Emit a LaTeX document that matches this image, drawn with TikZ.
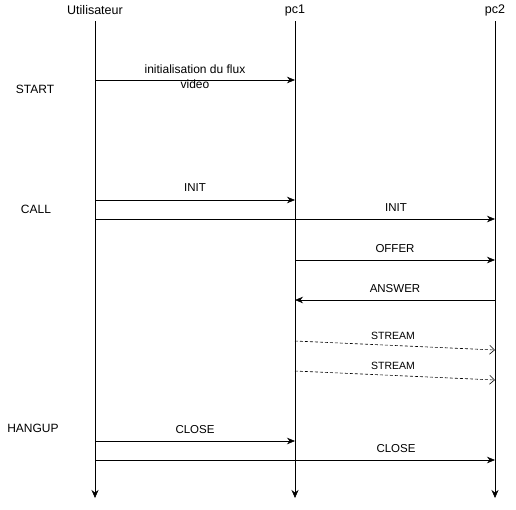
\documentclass[tikz,border=0pt]{standalone}
\usepackage{fontspec}
\setmainfont{Liberation Sans}
\usetikzlibrary{positioning, arrows.meta}

\begin{document}
\begin{tikzpicture}[x=1pt, y=-1pt,
  actor/.style={font=\fontsize{12.5}{14}\selectfont, inner sep=0pt},
  phase/.style={font=\fontsize{12}{13}\selectfont, inner sep=0pt},
  life/.style={-{Stealth[length=8pt,width=7pt]}, semithick},
  msg/.style={-{Stealth[length=8pt,width=6.5pt]}, semithick},
  stream/.style={dash pattern=on 3pt off 2pt, -{Straight Barb[length=5pt,width=9pt]}, semithick},
  lbl/.style={midway, yshift=11.5pt, inner sep=0pt, font=\fontsize{11.5}{13}\selectfont},
  slbl/.style={midway, yshift=10pt, inner sep=0pt, font=\fontsize{10.5}{12}\selectfont}
]
  \useasboundingbox (0,0) rectangle (516,509);

  % actors and their lifelines
  \node[actor] (user) at (95,10) {Utilisateur};
  \node[actor] (pc1)  at (295,10) {pc1};
  \node[actor] (pc2)  at (495,10) {pc2};
  \coordinate (bottom) at (0,498);
  \draw[life] (user |- 0,21) -- (user |- bottom);
  \draw[life] (pc1 |- 0,21) -- (pc1 |- bottom);
  \draw[life] (pc2 |- 0,21) -- (pc2 |- bottom);

  % phases
  \node[phase] (start)  at (35,89)  {START};
  \node[phase] (call)   at (36,209) {CALL};
  \node[phase] (hangup) at (33,428) {HANGUP};

  % START
  \draw[msg] (user |- 0,80) -- node[midway, yshift=3.5pt, align=center, inner sep=0pt,
    font=\fontsize{12}{14.5}\selectfont]{initialisation du flux\\video} (pc1 |- 0,80);

  % CALL
  \draw[msg] (user |- 0,200) -- node[lbl, yshift=1pt]{INIT} (pc1 |- 0,200);
  \draw[msg] (user |- 0,219) -- (pc2 |- 0,219) node[lbl, xshift=101pt]{INIT};
  \draw[msg] (pc1 |- 0,260) -- node[lbl]{OFFER} (pc2 |- 0,260);
  \draw[msg] (pc2 |- 0,300) -- node[lbl]{ANSWER} (pc1 |- 0,300);
  \draw[stream] (pc1 |- 0,341) -- node[slbl, xshift=-2pt]{STREAM} (pc2 |- 0,350);
  \draw[stream] (pc1 |- 0,371) -- node[slbl, xshift=-2pt]{STREAM} (pc2 |- 0,380);

  % HANGUP
  \draw[msg] (user |- 0,441) -- node[lbl, yshift=-0.5pt]{CLOSE} (pc1 |- 0,441);
  \draw[msg] (user |- 0,460) -- (pc2 |- 0,460) node[lbl, xshift=101pt]{CLOSE};
\end{tikzpicture}
\end{document}
